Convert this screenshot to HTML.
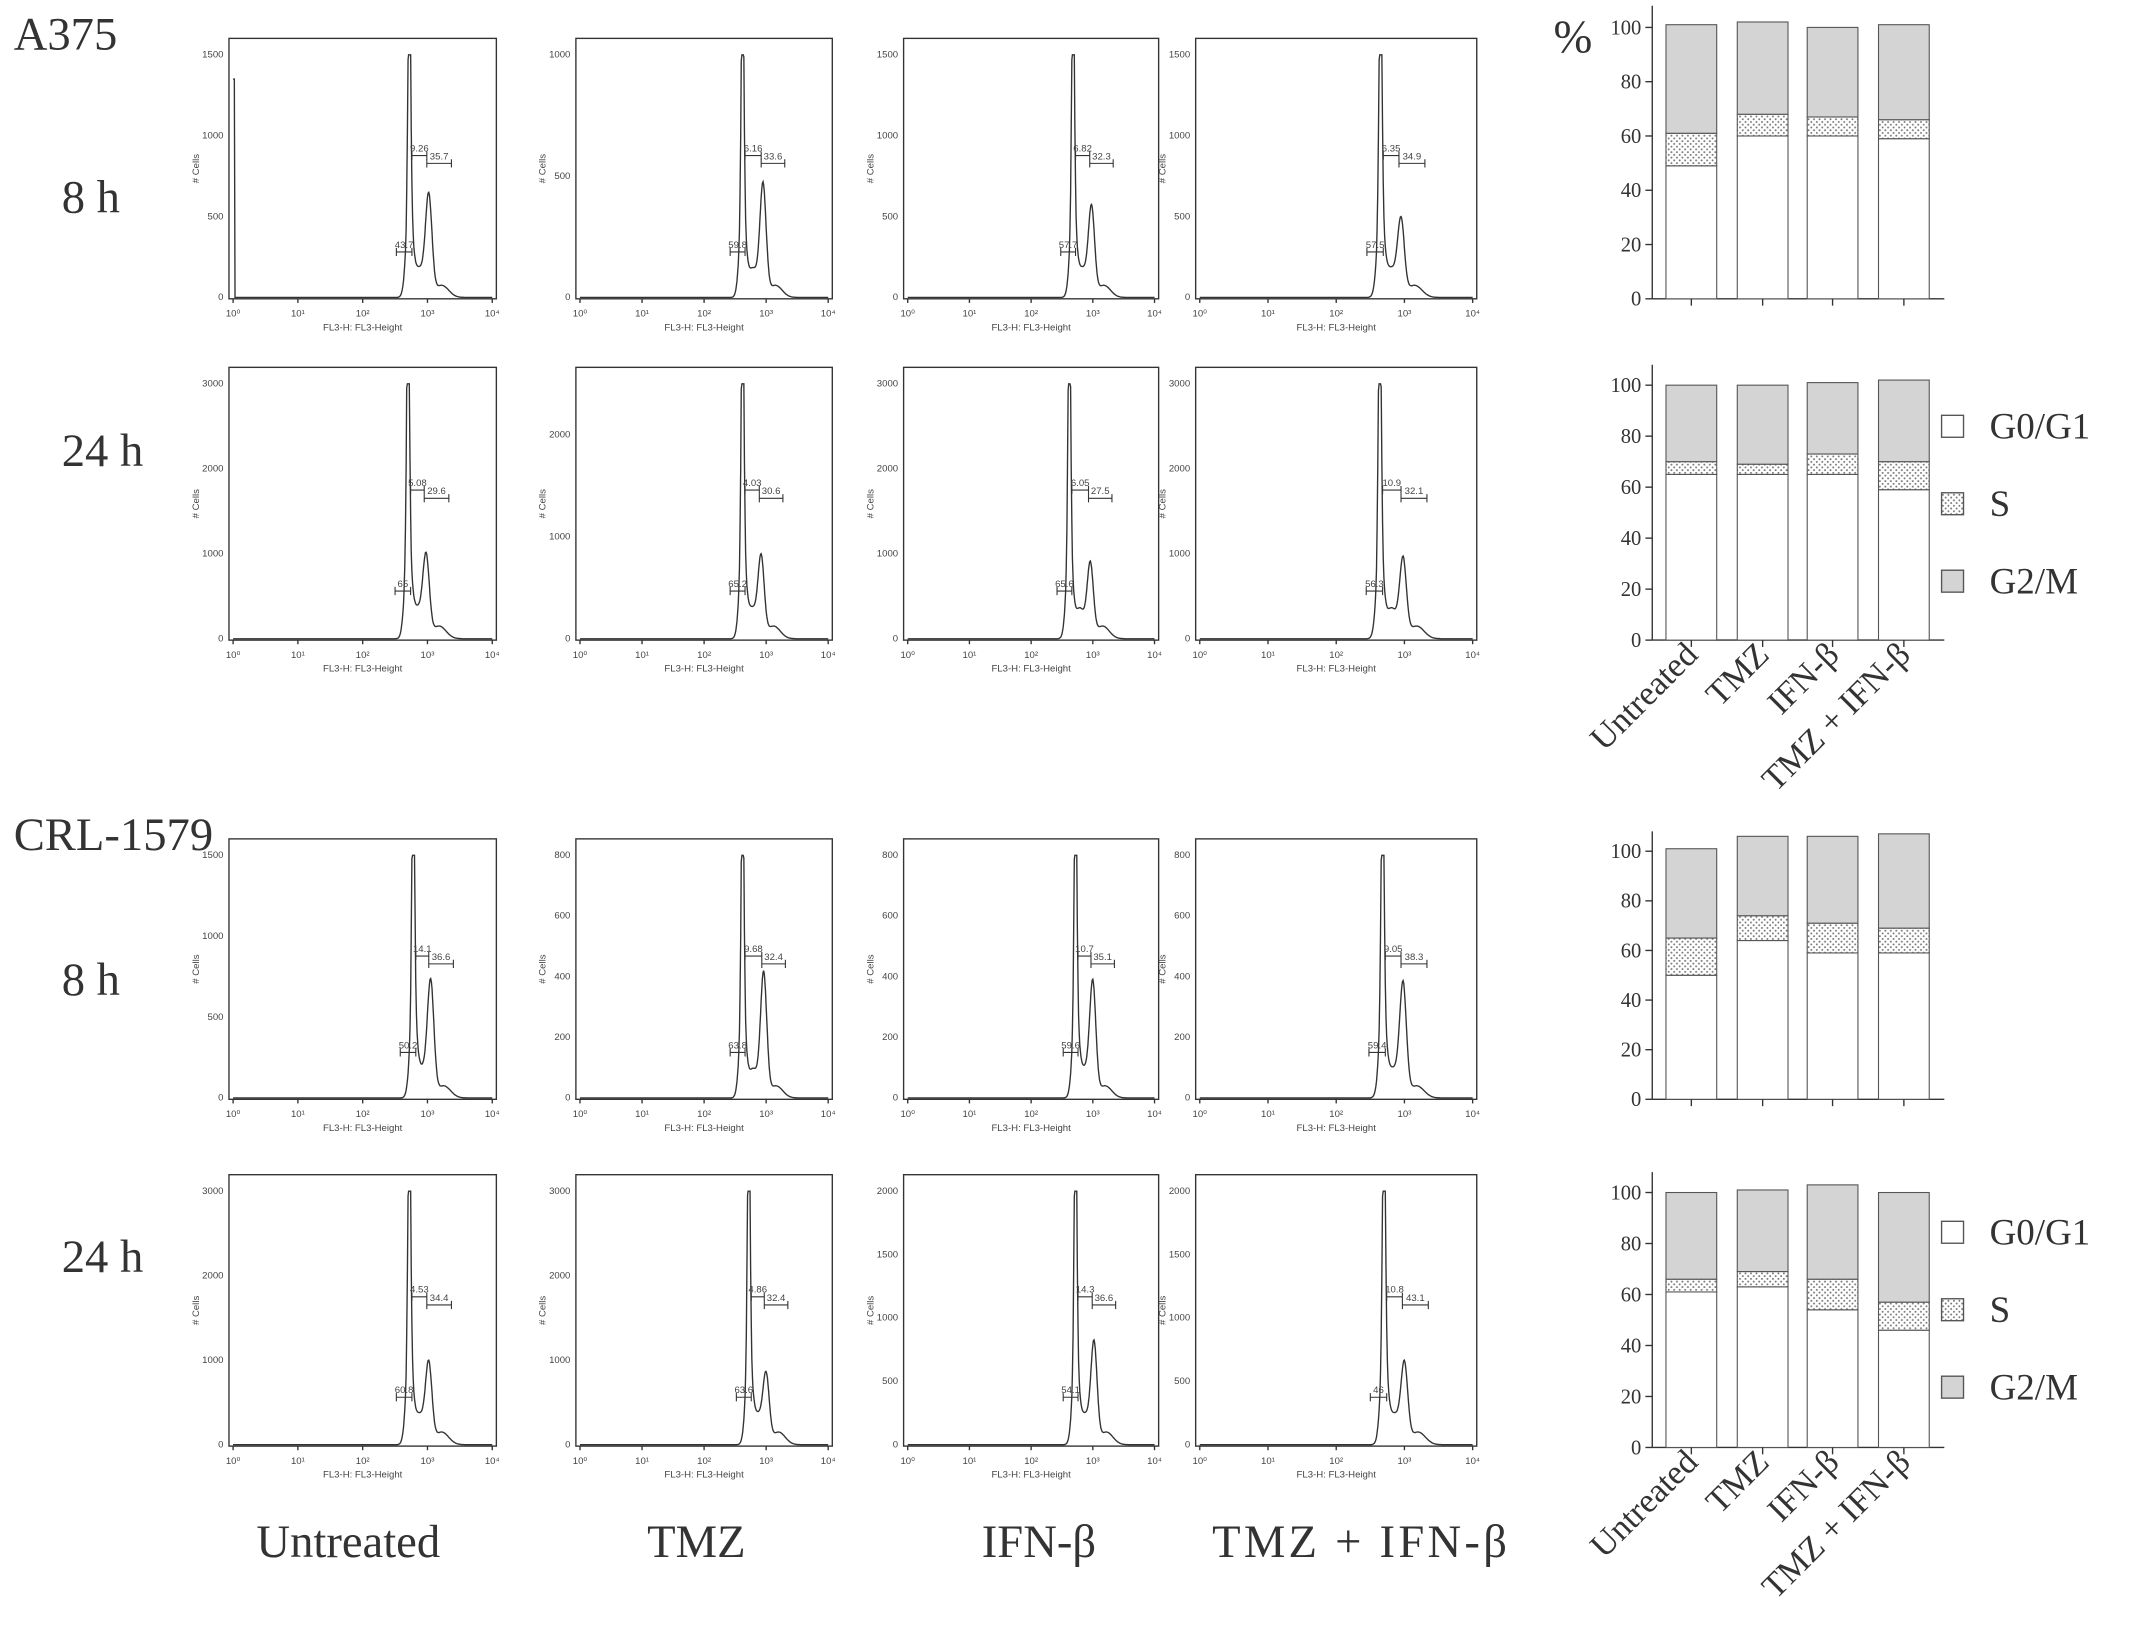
<!DOCTYPE html>
<html><head><meta charset="utf-8"><style>
body{margin:0;background:#fff}
svg{display:block}
text{font-family:"Liberation Serif",serif}
.sm{font-family:"Liberation Sans",sans-serif;font-size:7px;fill:#444}
</style></head><body>
<svg id="fig" width="2150" height="1638" viewBox="0 0 1568 1195" preserveAspectRatio="none" xmlns="http://www.w3.org/2000/svg">
<g id="labels" font-size="34" fill="#333">
<text x="10" y="36">A375</text>
<text x="45" y="155">8 h</text>
<text x="45" y="340">24 h</text>
<text x="10" y="620">CRL-1579</text>
<text x="45" y="726">8 h</text>
<text x="45" y="928">24 h</text>
<text x="1133" y="38">%</text>
<text x="187" y="1136">Untreated</text>
<text x="472" y="1136">TMZ</text>
<text x="716" y="1136">IFN-β</text>
<text x="884" y="1136" textLength="215">TMZ + IFN-β</text>
</g>
</svg>
<script>
const NS='http://www.w3.org/2000/svg';
const svg=document.getElementById('fig');
function mk(tag,attrs,parent,txt){const e=document.createElementNS(NS,tag);for(const k in attrs)e.setAttribute(k,attrs[k]);if(txt!==undefined)e.textContent=txt;(parent||svg).appendChild(e);return e;}

// ---- bar chart data ----
const treatments=['Untreated','TMZ','IFN-β','TMZ + IFN-β'];
const g1_a375_8=[49,60,60,59], s_a375_8=[12,8,7,7], g2_a375_8=[40,34,33,35];
const g1_a375_24=[65,65,65,59], s_a375_24=[5,4,8,11], g2_a375_24=[30,31,28,32];
const g1_crl_8=[50,64,59,59], s_crl_8=[15,10,12,10], g2_crl_8=[36,32,35,38];
const g1_crl_24=[61,63,54,46], s_crl_24=[5,6,12,11], g2_crl_24=[34,32,37,43];
const yTicks=[0,20,40,60,80,100];

const defs=mk('defs',{});
const pat=mk('pattern',{id:'dots',width:4,height:4,patternUnits:'userSpaceOnUse'},defs);
mk('rect',{width:4,height:4,fill:'#fff'},pat);
mk('circle',{cx:1,cy:1,r:0.7,fill:'#777'},pat);
mk('circle',{cx:3,cy:3,r:0.7,fill:'#777'},pat);

const barCharts=[
 {y0:218,y100:20,g1:g1_a375_8,s:s_a375_8,g2:g2_a375_8,labels:false,legend:false},
 {y0:467,y100:281,g1:g1_a375_24,s:s_a375_24,g2:g2_a375_24,labels:true,legend:312},
 {y0:802,y100:621,g1:g1_crl_8,s:s_crl_8,g2:g2_crl_8,labels:false,legend:false},
 {y0:1056,y100:870,g1:g1_crl_24,s:s_crl_24,g2:g2_crl_24,labels:true,legend:900}
];
const barX=[1215,1267,1318,1370], barW=37, axX=1205;
barCharts.forEach((c,ci)=>{
 const g=mk('g',{});
 
 
 const ys=v=>c.y0-(c.y100-c.y0)*-v/100;
 mk('line',{x1:axX,y1:c.y0,x2:axX,y2:ys(108),stroke:'#333','stroke-width':1},g);
 mk('line',{x1:axX,y1:c.y0,x2:1418,y2:c.y0,stroke:'#333','stroke-width':1},g);
 yTicks.forEach(t=>{
  mk('line',{x1:axX-5,y1:ys(t),x2:axX,y2:ys(t),stroke:'#333'},g);
  mk('text',{x:axX-8,y:ys(t)+5,'text-anchor':'end','font-size':15,fill:'#333'},g,t);
 });
 treatments.forEach((tr,i)=>{
  const x=barX[i];
  const a=c.g1[i],b=a+c.s[i],d=b+c.g2[i];
  const r1=mk('rect',{x:x,y:ys(a),width:barW,height:ys(0)-ys(a),fill:'#fff',stroke:'#555','stroke-width':0.8},g);
  
  
  const r2=mk('rect',{x:x,y:ys(b),width:barW,height:ys(a)-ys(b),fill:'url(#dots)',stroke:'#555','stroke-width':0.8},g);
  
  
  const r3=mk('rect',{x:x,y:ys(d),width:barW,height:ys(b)-ys(d),fill:'#d4d4d4',stroke:'#555','stroke-width':0.8},g);
  
  
  mk('line',{x1:x+barW/2,y1:c.y0,x2:x+barW/2,y2:c.y0+5,stroke:'#333'},g);
  if(c.labels){
   const cx=x+barW/2+6, cy=c.y0+12;
   const t=mk('text',{x:cx,y:cy,'text-anchor':'end','font-size':25,fill:'#333',transform:`rotate(-45 ${cx} ${cy})`},g,tr);
   
   
  }
 });
 if(c.legend){
  const items=[['G0/G1','#fff'],['S','url(#dots)'],['G2/M','#d4d4d4']];
  items.forEach((it,k)=>{
   const yy=c.legend+k*56.5;
   const lr=mk('rect',{x:1416,y:yy-9,width:16,height:16,fill:it[1],stroke:'#555'},g);
   
   
   const lt=mk('text',{x:1451,y:yy+8,'font-size':27,fill:'#333'},g,it[0]);
   
   
  });
 }
});

// ---- histograms ----
const panelCols=[[167,362],[420,607],[659,845],[872,1077]];
const panelRows=[[28,218],[268,467],[612,802],[857,1055]];
const histG1=[2.72,2.62,2.68,2.65, 2.70,2.62,2.62,2.64, 2.78,2.62,2.72,2.68, 2.72,2.72,2.72,2.70];
const histG2=[3.02,2.95,2.98,2.95, 2.98,2.92,2.96,2.98, 3.05,2.96,3.00,2.98, 3.02,3.00,3.02,3.00];
const histH2=[0.4,0.45,0.35,0.3, 0.3,0.3,0.28,0.3, 0.45,0.5,0.45,0.45, 0.3,0.25,0.38,0.3];
const histYMax=[1500,1000,1500,1500, 3000,2500,3000,3000, 1500,800,800,800, 3000,3000,2000,2000];
const gateLabels=[['43.7','9.26','35.7'],['59.8','6.16','33.6'],['57.7','6.82','32.3'],['57.5','6.35','34.9'],
 ['65','5.08','29.6'],['65.2','4.03','30.6'],['65.6','6.05','27.5'],['56.3','10.9','32.1'],
 ['50.2','14.1','36.6'],['63.8','9.68','32.4'],['59.6','10.7','35.1'],['59.4','9.05','38.3'],
 ['60.8','4.53','34.4'],['63.6','4.86','32.4'],['54.1','14.3','36.6'],['46','10.8','43.1']];
panelRows.forEach((r,ri)=>panelCols.forEach((c,cj)=>{
 const idx=ri*4+cj;
 const g=mk('g',{});
 
 
 const [x0,x1]=c,[y0,y1]=r;
 mk('rect',{x:x0,y:y0,width:x1-x0,height:y1-y0,fill:'#fff',stroke:'#333','stroke-width':1},g);
 const ix0=x0+3,ix1=x1-3;
 const xs=l=>ix0+(ix1-ix0)*l/4;
 const ytop=y0+12, ybot=y1-1;
 for(let d=0;d<=4;d++){
  mk('line',{x1:xs(d),y1:y1,x2:xs(d),y2:y1+3,stroke:'#333'},g);
  mk('text',{x:xs(d),y:y1+13,'text-anchor':'middle',class:'sm'},g,'10'+['⁰','¹','²','³','⁴'][d]);
 }
 mk('text',{x:(x0+x1)/2,y:y1+23,'text-anchor':'middle',class:'sm'},g,'FL3-H: FL3-Height');
 for(let v=0;v<=histYMax[idx];v+=histYMax[idx]>=2500?1000:(histYMax[idx]>=1000?500:200)){
  const yy=ybot-(ybot-ytop)*v/histYMax[idx];
  mk('text',{x:x0-4,y:yy+2,'text-anchor':'end',class:'sm'},g,v);
 }
 mk('text',{x:x0-22,y:(y0+y1)/2,'text-anchor':'middle',class:'sm',transform:`rotate(-90 ${x0-22} ${(y0+y1)/2})`},g,'# Cells');
 let p='';
 const a=histG1[idx],b=histG2[idx],h2=histH2[idx];
 for(let l=0;l<=4;l+=0.01){
  let v=Math.exp(-Math.pow((l-a)/0.03,2))+0.35*Math.exp(-Math.pow((l-a)/0.07,2))+h2*Math.exp(-Math.pow((l-b)/0.07,2))+0.12*Math.exp(-Math.pow((l-(a+b)/2)/0.12,2))+0.05*Math.exp(-Math.pow((l-b-0.2)/0.15,2));
  if(l<0.03&&idx===0)v=0.9;
  v=Math.min(v,1);
  p+=(p?'L':'M')+xs(l).toFixed(1)+','+(ybot-(ybot-ytop)*v).toFixed(1);
 }
 mk('path',{d:p,fill:'none',stroke:'#333','stroke-width':1},g);
 const gl=gateLabels[idx];
 const gx=[[a-0.2,a+0.04],[a+0.04,b-0.03],[b-0.03,b+0.35]];
 gx.forEach((gg,k)=>{
  const yy=[y1-(y1-y0)*0.18,y1-(y1-y0)*0.55,y1-(y1-y0)*0.52][k];
  mk('path',{d:`M${xs(gg[0])},${yy-3}V${yy+3}M${xs(gg[0])},${yy}H${xs(gg[1])}M${xs(gg[1])},${yy-3}V${yy+3}`,stroke:'#333','stroke-width':0.8,fill:'none'},g);
  mk('text',{x:(xs(gg[0])+xs(gg[1]))/2,y:yy-3,'text-anchor':'middle',class:'sm','font-size':9},g,gl[k]);
 });
}));
</script>
</body></html>
